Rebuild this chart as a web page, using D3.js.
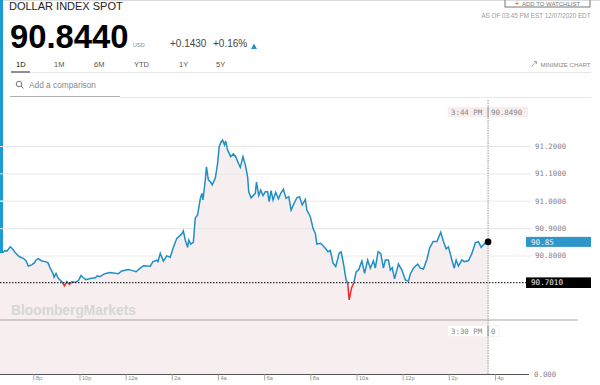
<!DOCTYPE html>
<html>
<head>
<meta charset="utf-8">
<script src="https://cdnjs.cloudflare.com/ajax/libs/d3/7.8.5/d3.min.js"></script>
<style>
  html, body { margin: 0; padding: 0; background: #fff; overflow: hidden; }
  text { font-family: "Liberation Sans", sans-serif; }
  .mono text, text.mono { font-family: "DejaVu Sans Mono", monospace; }
</style>
</head>
<body>
<svg id="chart" width="600" height="385"></svg>
<script>
// minutes after 6pm (Dec 6)
const minutes = [33,41,47,52,60,67,73,81,87,94,101,107,116,123,127,133,142,151,158,164,171,174,179,185,194,201,207,214,220,229,
  237,244,250,257,268,281,286,293,306,319,341,350,367,376,387,398,406,424,431,441,444,450,458,467,476,484,493,506,510,515,
  521,524,529,536,541,547,554,558,561,567,570,575,580,585,593,599,603,607,612,617,620,625,633,640,646,653,658,665,671,677,
  680,686,697,700,706,711,717,723,729,733,738,743,750,757,763,770,777,784,790,798,805,812,819,827,831,840,847,853,857,867,
  879,886,892,899,906,915,920,926,933,937,941,947,953,959,966,974,981,989,996,1004,1009,1016,1023,1030,1035,1043,1048,1053,1059,1069,
  1078,1087,1095,1100,1108,1119,1126,1134,1143,1150,1159,1169,1179,1186,1193,1199,1208,1214,1219,1225,1234,1240,1251,1260,1269,1277,1284,1295,1302]

const prices = [90.811,90.812,90.818,90.817,90.832,90.823,90.811,90.799,90.794,90.790,90.781,90.762,90.766,90.774,90.784,90.789,90.780,90.778,90.774,90.754,90.735,90.721,90.735,90.717,90.705,90.690,90.705,90.695,90.704,90.703,
  90.708,90.727,90.719,90.712,90.716,90.719,90.726,90.723,90.734,90.738,90.734,90.744,90.749,90.746,90.741,90.754,90.763,90.761,90.778,90.783,90.778,90.808,90.780,90.799,90.794,90.830,90.863,90.879,90.890,90.857,
  90.830,90.857,90.842,90.848,90.937,90.948,91.008,91.027,91.003,91.076,91.124,91.076,91.070,91.058,91.082,91.137,91.197,91.212,91.222,91.204,91.218,91.185,91.161,91.171,91.161,91.137,91.122,91.161,91.131,91.088,
  91.033,91.011,91.027,91.068,91.019,91.039,91.019,91.033,91.033,90.997,91.037,91.003,91.031,91.007,91.027,91.042,91.009,91.015,90.966,90.991,91.011,91.015,90.985,91.005,90.966,90.942,90.900,90.881,90.842,90.845,
  90.827,90.814,90.819,90.772,90.760,90.809,90.814,90.772,90.711,90.701,90.638,90.682,90.701,90.740,90.749,90.780,90.735,90.784,90.754,90.781,90.754,90.814,90.808,90.754,90.784,90.784,90.747,90.756,90.715,90.769,
  90.747,90.711,90.707,90.733,90.754,90.769,90.754,90.751,90.786,90.827,90.851,90.851,90.885,90.851,90.824,90.832,90.784,90.754,90.784,90.762,90.784,90.778,90.781,90.808,90.847,90.851,90.830,90.847,90.850]

const priceTicks = [91.2, 91.1, 91.0, 90.9, 90.8]
const fadedTicks = [91.0, 90.8]
const timeTicks = [120, 240, 360, 480, 600, 720, 840, 960, 1080, 1200, 1320]
const timeLabels = ['8p', '10p', '12a', '2a', '4a', '6a', '8a', '10a', '12p', '2p', '4p']
const tabs = ['1D', '1M', '6M', 'YTD', '1Y', '5Y']
const tabX = [16, 54, 94, 134, 179, 216]
const baseline = 90.701
const lastPrice = 90.85

const svg = d3.select('#chart')
const data = minutes.map((m, i) => ({ m, p: prices[i] }))

const x = d3.scaleLinear().domain([120, 1320]).range([33.3, 495])
const y = d3.scaleLinear().domain([baseline, 91.2]).range([282.7, 146])
const vol = d3.scaleLinear().domain([0, 1]).range([374.5, 320])
const bottom = vol(0)

// page header
svg.append('rect').attr('width', 600).attr('height', 1).attr('fill', '#dcdcdc')
svg.append('rect').attr('width', 3).attr('height', 252).attr('fill', '#1a9bd3')

const text = (s, tx, ty, size, fill, extra) => {
  const t = svg.append('text').attr('x', tx).attr('y', ty)
    .attr('font-size', size).attr('fill', fill).text(s)
  if (extra) extra(t)
  return t
}

text('DOLLAR INDEX SPOT', 9, 10, 11, '#222')
text('90.8440', 10, 48, 32.8, '#000', t => t.attr('font-weight', 'bold'))
text('USD', 133, 47, 5.5, '#888')
text('+0.1430', 170, 47, 10, '#444')
text('+0.16%', 213, 47, 10, '#444')
svg.append('path').attr('d', 'M251 49 L254 43.5 L257 49 Z').attr('fill', '#2a8fc4')

svg.selectAll('.tab').data(tabs).enter().append('text')
  .attr('class', 'tab')
  .attr('x', (_, i) => tabX[i])
  .attr('y', 67)
  .attr('font-size', 7.5)
  .attr('fill', (_, i) => i == 0 ? '#111' : '#555')
  .text(d => d)

svg.append('line').attr('x1', 30).attr('x2', 591).attr('y1', 72.5).attr('y2', 72.5).attr('stroke', '#e6e6e6')
svg.append('line').attr('x1', 11).attr('x2', 30).attr('y1', 72).attr('y2', 72).attr('stroke', '#222')
svg.append('line').attr('x1', 120).attr('x2', 591).attr('y1', 97.5).attr('y2', 97.5).attr('stroke', '#e6e6e6')
svg.append('line').attr('x1', 10).attr('x2', 120).attr('y1', 96.5).attr('y2', 96.5).attr('stroke', '#b0b0b0')

svg.append('circle').attr('cx', 19).attr('cy', 84).attr('r', 2.8).attr('fill', 'none').attr('stroke', '#777')
svg.append('line').attr('x1', 21).attr('y1', 86).attr('x2', 23.5).attr('y2', 88.5).attr('stroke', '#777')
text('Add a comparison', 29, 88, 8.3, '#888')

// watchlist button
svg.append('rect').attr('x', 505).attr('y', -8).attr('width', 85).attr('height', 15)
  .attr('fill', 'none').attr('stroke', '#777')
text('+', 515, 5.6, 7, '#d33')
text('ADD TO WATCHLIST', 522, 5.5, 6, '#777')
text('AS OF 03:45 PM EST 12/07/2020 EDT', 590.5, 18, 6.3, '#999', t => t.attr('text-anchor', 'end'))
text('MINIMIZE CHART', 590.5, 67, 6.1, '#888', t => t.attr('text-anchor', 'end'))
svg.append('path').attr('d', 'M531.5 66.5 L536.5 61.5 M534 61.5 H536.5 V64').attr('fill', 'none').attr('stroke', '#999').attr('stroke-width', 0.8)

// area under the price
const area = d3.area().x(d => x(d.m)).y0(bottom).y1(d => y(d.p))
svg.append('path').datum(data).attr('d', area).attr('fill', '#f6eeef')

// grid and price labels
const yAxis = d3.axisRight(y).tickValues(priceTicks).tickSize(-531).tickPadding(4).tickFormat(d3.format('.4f'))
const gy = svg.append('g').attr('class', 'mono').attr('transform', 'translate(531,0)').call(yAxis)
gy.select('.domain').remove()
gy.selectAll('.tick line')
  .attr('stroke', d => fadedTicks.includes(d) ? '#f1f1f1' : '#e6e6e6')
  .attr('stroke-width', d => fadedTicks.includes(d) ? 1.5 : 1)
gy.selectAll('.tick text').attr('font-size', 7.4).attr('fill', '#8a8088')

// price line, blue above the previous close and red below it
const line = d3.line().x(d => x(d.m)).y(d => y(d.p))
const clip = svg.append('defs')
clip.append('clipPath').attr('id', 'above').append('rect')
  .attr('x', 0).attr('y', 0).attr('width', 600).attr('height', y(baseline))
clip.append('clipPath').attr('id', 'below').append('rect')
  .attr('x', 0).attr('y', y(baseline)).attr('width', 600).attr('height', bottom - y(baseline))

svg.append('path').datum(data).attr('d', line).attr('fill', 'none')
  .attr('stroke', '#1f8fc6').attr('stroke-width', 1.5).attr('clip-path', 'url(#above)')
svg.append('path').datum(data).attr('d', line).attr('fill', 'none')
  .attr('stroke', '#f0282d').attr('stroke-width', 1.5).attr('clip-path', 'url(#below)')

// previous close
svg.append('line').attr('x1', 0).attr('x2', 526).attr('y1', y(baseline)).attr('y2', y(baseline))
  .attr('stroke', '#000').attr('stroke-width', 1).attr('stroke-dasharray', '1.5 1.5')

text('BloombergMarkets', 11, 315, 13.8, '#d6d6d6', t => t.attr('font-weight', 'bold'))

// volume panel
svg.append('line').attr('x1', 0).attr('x2', 578).attr('y1', vol(1)).attr('y2', vol(1)).attr('stroke', '#aaa5a5').attr('stroke-width', 1)

const volAxis = d3.axisRight(vol).tickValues([0]).tickSize(0).tickPadding(4).tickFormat(d3.format('.3f'))
const gv = svg.append('g').attr('class', 'mono').attr('transform', 'translate(530,0)').call(volAxis)
gv.select('.domain').remove()
gv.selectAll('text').attr('font-size', 7.4).attr('fill', '#8a8088')

// time axis
const xAxis = d3.axisBottom(x).tickValues(timeTicks).tickSize(6).tickPadding(0)
  .tickFormat((_, i) => timeLabels[i])
const gx = svg.append('g').attr('transform', `translate(0,${bottom})`).call(xAxis)
gx.select('.domain').attr('d', 'M0,0H529').attr('stroke', '#555').attr('stroke-width', 1)
gx.selectAll('.tick line').attr('stroke', '#aaa')
gx.selectAll('.tick text')
  .attr('text-anchor', 'start').attr('x', 2).attr('y', 2).attr('dy', '0.71em')
  .attr('font-size', 5.6).attr('fill', '#888')

// crosshair
const crossX = x(minutes[minutes.length - 1])
svg.append('line').attr('x1', crossX).attr('x2', crossX).attr('y1', 100).attr('y2', bottom)
  .attr('stroke', '#aaa').attr('stroke-width', 1.2).attr('stroke-dasharray', '1.5 1')

const flag = (bx, by, w, h, fill, stroke) => svg.append('rect')
  .attr('x', bx).attr('y', by).attr('width', w).attr('height', h)
  .attr('fill', fill).attr('stroke', stroke || 'none').attr('stroke-width', 0.6)

flag(447.7, 106.8, 80.3, 10.5, '#f8eeee')
flag(crossX - 0.6, 106.8, 1.2, 10.5, '#999')
text('3:44 PM', 451, 114.8, 7.4, '#888', t => t.attr('class', 'mono'))
text('90.8490', 491, 114.8, 7.4, '#888', t => t.attr('class', 'mono'))

flag(448, 325.8, 39, 10.4, '#fff')
flag(crossX + 0.5, 325.8, 10.5, 10.4, '#fff', '#f3e3e3')
flag(crossX - 0.6, 325.8, 1.2, 10.4, '#999')
text('3:30 PM', 451, 333.6, 7.4, '#888', t => t.attr('class', 'mono'))
text('0', 491, 333.6, 7.4, '#888', t => t.attr('class', 'mono'))

svg.append('circle').attr('cx', crossX).attr('cy', y(lastPrice)).attr('r', 3.3).attr('fill', '#000')

// right side flags
flag(526, y(lastPrice) - 5, 65, 10, '#2e96c9')
text('90.85', 531, y(lastPrice) + 2.7, 7.6, '#e8f4fa', t => t.attr('class', 'mono'))
flag(526, y(baseline) - 5.3, 65, 10.6, '#000')
text('90.7010', 531, y(baseline) + 2.7, 7.6, '#f4eef0', t => t.attr('class', 'mono'))
</script>
</body>
</html>
